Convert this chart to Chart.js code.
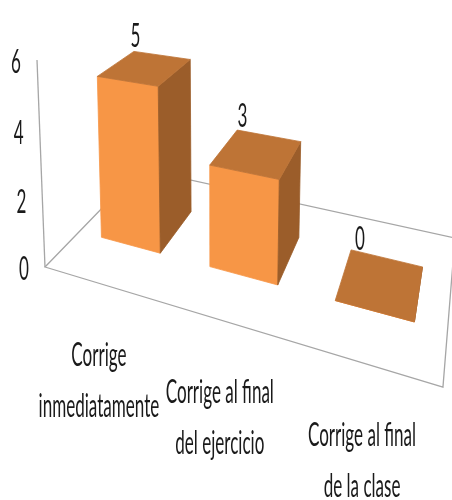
<!DOCTYPE html>
<html>
<head>
<meta charset="utf-8">
<script src="https://cdn.jsdelivr.net/npm/chart.js@4/dist/chart.umd.min.js"></script>
<style>
  body { margin: 0; background: #fff; }
  #wrap { width: 452px; height: 500px; }
</style>
</head>
<body>
<div id="wrap"><canvas id="grafica" width="452" height="500"></canvas></div>
<script>
// datos
const categorias = [
  ["Corrige", "inmediatamente"],
  ["Corrige al final", "del ejercicio"],
  ["Corrige al final", "de la clase"]
];
const valores = [5, 3, 0];
const ticksY = [0, 2, 4, 6];
const maxY = 6;

// colores de las caras
const colorFrente = '#F79646';
const colorArriba = '#BE7436';
const colorLado = '#9B5D2A';
const colorEjes = '#a6a6a6';

// proyeccion en perspectiva (columnas: s = x/3, t = profundidad, y = valor, 1)
const P = [
  [302.1, 133.0, -1.61, 45],
  [36.3, -52.1, -34.95, 267],
  [-0.2164, 0.2717, -0.00749, 1]
];
const nCat = categorias.length;
const medioAncho = 0.28;   // mitad del ancho de barra (en unidades de categoria)
const z0 = 0.31, z1 = 0.70; // profundidad de las barras

function proyectar(x, y, z) {
  const s = x / nCat;
  const X = P[0][0] * s + P[0][1] * z + P[0][2] * y + P[0][3];
  const Y = P[1][0] * s + P[1][1] * z + P[1][2] * y + P[1][3];
  const W = P[2][0] * s + P[2][1] * z + P[2][2] * y + P[2][3];
  return [X / W, Y / W];
}

function texto(ctx, str, x, y, align, base) {
  ctx.save();
  ctx.translate(x, y);
  ctx.scale(0.775, 1.45);
  ctx.font = '22px Lato';
  ctx.fillStyle = '#1a1a1a';
  ctx.textAlign = align;
  ctx.textBaseline = base;
  ctx.fillText(str, 0, 0);
  ctx.restore();
}

function poligono(ctx, pts, color) {
  ctx.beginPath();
  pts.forEach((p, i) => i ? ctx.lineTo(p[0], p[1]) : ctx.moveTo(p[0], p[1]));
  ctx.closePath();
  ctx.fillStyle = color;
  ctx.strokeStyle = color;
  ctx.lineWidth = 0.8;
  ctx.fill();
  ctx.stroke();
}

const barras3D = {
  id: 'barras3D',
  afterDatasetsDraw(chart) {
    const ctx = chart.ctx;
    const area = chart.chartArea;
    const xs = chart.scales.x, ys = chart.scales.y;
    // pasar de pixeles de las escalas a coordenadas del mundo
    const wx = i => (xs.getPixelForValue(i) - area.left) / area.width * nCat;
    const wy = v => (area.bottom - ys.getPixelForValue(v)) / area.height * maxY;

    // piso y eje vertical
    ctx.save();
    ctx.strokeStyle = colorEjes;
    ctx.lineWidth = 1.3;
    const esquinas = [[0, 0], [nCat, 0], [nCat, 1], [0, 1]].map(c => proyectar(c[0], 0, c[1]));
    ctx.beginPath();
    esquinas.forEach((p, i) => i ? ctx.lineTo(p[0], p[1]) : ctx.moveTo(p[0], p[1]));
    ctx.closePath();
    ctx.stroke();
    const base = proyectar(0, 0, 0), tope = proyectar(0, wy(maxY), 0);
    ctx.beginPath();
    ctx.moveTo(base[0], base[1]);
    ctx.lineTo(tope[0], tope[1]);
    ctx.stroke();
    ctx.restore();

    // barras
    valores.forEach((v, i) => {
      const c = wx(i), h = wy(v);
      const xa = c - medioAncho, xb = c + medioAncho;
      poligono(ctx, [proyectar(xa, 0, z0), proyectar(xb, 0, z0), proyectar(xb, h, z0), proyectar(xa, h, z0)], colorFrente);
      poligono(ctx, [proyectar(xb, 0, z0), proyectar(xb, 0, z1), proyectar(xb, h, z1), proyectar(xb, h, z0)], colorLado);
      poligono(ctx, [proyectar(xa, h, z0), proyectar(xb, h, z0), proyectar(xb, h, z1), proyectar(xa, h, z1)], colorArriba);
      // etiqueta de valor (sobre el borde trasero de la cara superior)
      const p = proyectar(c, h, z1);
      texto(ctx, String(v), p[0] - 26, p[1] - 19, 'center', 'middle');
      // etiqueta de categoria
      const f = proyectar(c, 0, 0);
      categorias[i].forEach((linea, k) => {
        texto(ctx, linea, f[0], f[1] + 83 + k * 51, 'center', 'alphabetic');
      });
    });

    // marcas del eje Y
    ticksY.forEach(t => {
      const p = proyectar(0, wy(t), 0);
      texto(ctx, String(t), p[0] - 16, p[1] + 3, 'right', 'middle');
    });
  }
};

const ctx = document.getElementById('grafica').getContext('2d');
window.myChart = new Chart(ctx, {
  type: 'bar',
  data: {
    labels: categorias,
    datasets: [{
      data: valores,
      backgroundColor: 'rgba(0,0,0,0)',
      borderWidth: 0
    }]
  },
  options: {
    responsive: false,
    animation: false,
    layout: { padding: 0 },
    plugins: { legend: { display: false }, tooltip: { enabled: false } },
    scales: {
      x: { display: false },
      y: { display: false, min: 0, max: maxY, ticks: { stepSize: 2 } }
    }
  },
  plugins: [barras3D]
});
</script>
</body>
</html>
